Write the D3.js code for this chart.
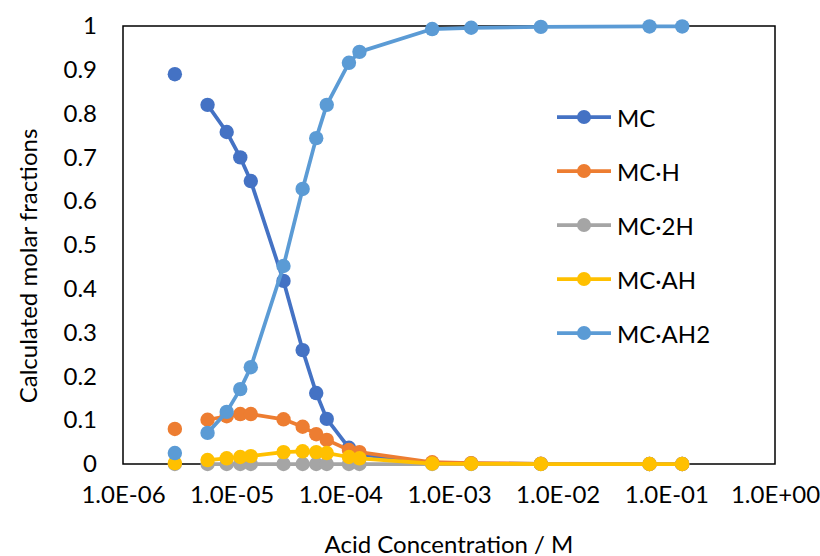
<!DOCTYPE html>
<html>
<head>
<meta charset="utf-8">
<script src="https://cdn.jsdelivr.net/npm/d3@7/dist/d3.min.js"></script>
<style>
  html, body { margin: 0; padding: 0; background: #fff; }
  svg { display: block; }
  text { font-family: Lato, "Open Sans", sans-serif; fill: #000; }
</style>
</head>
<body>
<svg id="chart" width="820" height="556"></svg>
<script>
// ---- data ----
const concentrations = [3e-6, null, 6e-6, 9e-6, 1.2e-5, 1.5e-5, 3e-5, 4.5e-5, 6e-5, 7.5e-5, 1.2e-4, 1.5e-4, 7e-4, 1.6e-3, 7e-3, 7e-2, 1.4e-1];
const seriesNames = ["MC", "MC·H", "MC·2H", "MC·AH", "MC·AH2"];
const seriesColors = ["#4472C4", "#ED7D31", "#A5A5A5", "#FFC000", "#5B9BD5"];
const valuesMC    = [0.890, null, 0.820, 0.758, 0.700, 0.646, 0.418, 0.260, 0.162, 0.103, 0.037, 0.022, 0.002, 0.001, 0.0002, 0, 0];
const valuesMCH   = [0.080, null, 0.101, 0.109, 0.114, 0.114, 0.102, 0.085, 0.068, 0.055, 0.032, 0.027, 0.004, 0.002, 0.0005, 0, 0];
const valuesMC2H  = [0.000, null, 0.000, 0.000, 0.000, 0.000, 0.000, 0.000, 0.000, 0.000, 0.000, 0.000, 0, 0, 0, 0, 0];
const valuesMCAH  = [0.002, null, 0.009, 0.013, 0.016, 0.018, 0.027, 0.029, 0.027, 0.025, 0.016, 0.013, 0.001, 0.0005, 0, 0, 0];
const valuesMCAH2 = [0.025, null, 0.071, 0.119, 0.171, 0.221, 0.452, 0.628, 0.744, 0.820, 0.916, 0.941, 0.993, 0.996, 0.998, 0.999, 0.999];
const seriesValues = [valuesMC, valuesMCH, valuesMC2H, valuesMCAH, valuesMCAH2];
const xTickValues = [1e-6, 1e-5, 1e-4, 1e-3, 1e-2, 1e-1, 1e0];
const xTickLabels = ["1.0E-06", "1.0E-05", "1.0E-04", "1.0E-03", "1.0E-02", "1.0E-01", "1.0E+00"];
const yTickValues = [0, 0.1, 0.2, 0.3, 0.4, 0.5, 0.6, 0.7, 0.8, 0.9, 1];
const yTickLabels = ["0", "0.1", "0.2", "0.3", "0.4", "0.5", "0.6", "0.7", "0.8", "0.9", "1"];
const xTitle = "Acid Concentration / M";
const yTitle = "Calculated molar fractions";

// ---- layout ----
const plot = { left: 123, right: 775, top: 26, bottom: 464 };
const svg = d3.select("#chart");
const x = d3.scaleLog().domain([1e-6, 1]).range([plot.left, plot.right]);
const y = d3.scaleLinear().domain([0, 1]).range([plot.bottom, plot.top]);
const fontSize = 24;

// plot frame
svg.append("rect")
  .attr("x", plot.left).attr("y", plot.top)
  .attr("width", plot.right - plot.left).attr("height", plot.bottom - plot.top)
  .attr("fill", "none").attr("stroke", "#000").attr("stroke-width", 1.5);

// y axis
const yAxis = d3.axisLeft(y).tickValues(yTickValues)
  .tickFormat((d, i) => yTickLabels[i]).tickSize(0).tickPadding(26);
const gy = svg.append("g").attr("transform", `translate(${plot.left},0)`).call(yAxis);
gy.select(".domain").remove();
gy.selectAll("text").style("font-size", fontSize + "px").attr("font-family", null);

// x axis
const xAxis = d3.axisBottom(x).tickValues(xTickValues)
  .tickFormat((d, i) => xTickLabels[i]).tickSize(0).tickPadding(22);
const gx = svg.append("g").attr("transform", `translate(0,${plot.bottom})`).call(xAxis);
gx.select(".domain").remove();
gx.selectAll("text").style("font-size", fontSize + "px").attr("font-family", null);

// titles
svg.append("text").attr("x", (plot.left + plot.right) / 2).attr("y", 543)
  .attr("text-anchor", "middle").attr("dominant-baseline", "central")
  .style("font-size", fontSize + "px").text(xTitle);
svg.append("text").attr("transform", "translate(27,266) rotate(-90)")
  .attr("text-anchor", "middle").attr("dominant-baseline", "central")
  .style("font-size", fontSize + "px").text(yTitle);

// series
const line = d3.line()
  .defined(d => d.v != null && d.c != null)
  .x(d => x(d.c)).y(d => y(d.v));

seriesNames.forEach((name, si) => {
  const pts = concentrations.map((c, i) => ({ c, v: seriesValues[si][i] }));
  const g = svg.append("g");
  g.append("path").datum(pts).attr("d", line)
    .attr("fill", "none").attr("stroke", seriesColors[si])
    .attr("stroke-width", 3.75).attr("stroke-linejoin", "round");
  g.selectAll("circle").data(pts.filter(d => d.v != null && d.c != null)).join("circle")
    .attr("cx", d => x(d.c)).attr("cy", d => y(d.v)).attr("r", 7.2)
    .attr("fill", seriesColors[si]);
});

// legend
const legend = svg.append("g");
seriesNames.forEach((name, i) => {
  const ly = 117 + i * 54;
  legend.append("line").attr("x1", 557).attr("x2", 611).attr("y1", ly).attr("y2", ly)
    .attr("stroke", seriesColors[i]).attr("stroke-width", 3.75);
  legend.append("circle").attr("cx", 584).attr("cy", ly).attr("r", 7)
    .attr("fill", seriesColors[i]);
  legend.append("text").attr("x", 617).attr("y", ly).attr("dominant-baseline", "central")
    .style("font-size", fontSize + "px").text(name);
});
</script>
</body>
</html>
